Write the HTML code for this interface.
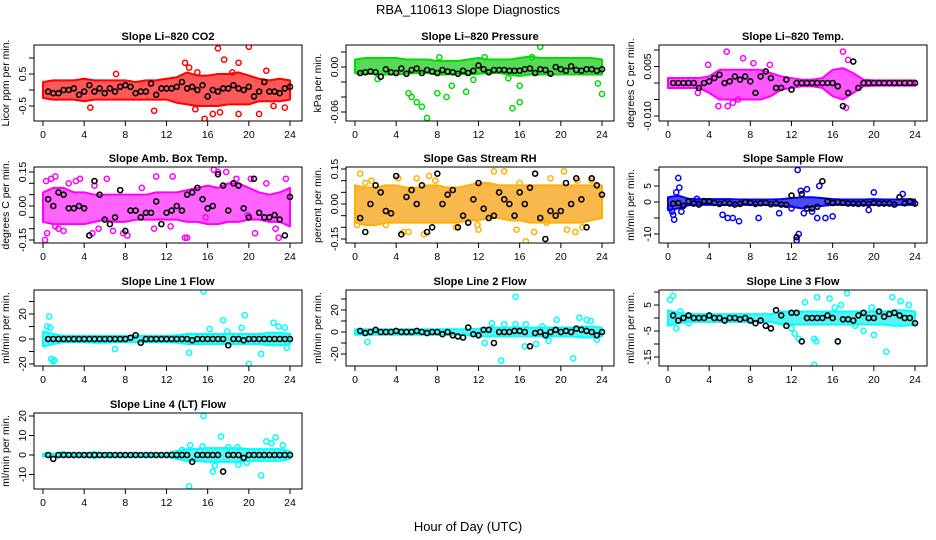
<!DOCTYPE html>
<html><head><meta charset="utf-8"><style>
html,body{margin:0;padding:0;background:#fff;}
svg{display:block;font-family:"Liberation Sans",sans-serif;}
</style></head><body>
<svg id="c" width="936" height="540" viewBox="0 0 936 540" xmlns="http://www.w3.org/2000/svg">
<text x="468" y="14" text-anchor="middle" font-size="13">RBA_110613  Slope Diagnostics</text>
<text x="468" y="531" text-anchor="middle" font-size="13">Hour of Day (UTC)</text>
</svg>
<script>
const blackHours=[0.5,1,1.5,2,2.5,3,3.5,4,4.5,5,5.5,6,6.5,7,7.5,8,8.5,9,9.5,10,10.5,11,11.5,12,12.5,13,13.5,14,14.5,15,15.5,16,16.5,17,17.5,18,18.5,19,19.5,20,20.5,21,21.5,22,22.5,23,23.5,24];
const bandHours=[0,1,2,3,4,5,6,7,8,9,10,11,12,13,14,15,16,17,18,19,20,21,22,23,24];
const xTicks=[0,4,8,12,16,20,24];

const co2Hi=[0.25,0.3,0.3,0.3,0.35,0.3,0.3,0.3,0.3,0.25,0.3,0.3,0.35,0.4,0.55,0.45,0.45,0.5,0.5,0.55,0.45,0.35,0.3,0.35,0.3];
const co2Lo=[-0.25,-0.3,-0.3,-0.3,-0.35,-0.3,-0.3,-0.3,-0.3,-0.3,-0.3,-0.3,-0.3,-0.4,-0.45,-0.5,-0.5,-0.5,-0.45,-0.45,-0.45,-0.35,-0.35,-0.35,-0.3];
const co2OutX=[17,20,17.6,19,13.8,21.7,15.7,16.5,17.2,19,21,10.8,23.5,14.8,4.6,7.1,15,14.2,18.4,22.4];
const co2OutY=[1.3,1.35,0.95,0.85,0.85,0.6,-0.9,-0.75,-0.7,-0.75,-0.75,-0.65,-0.55,-0.6,-0.55,0.5,0.55,0.7,0.55,-0.5];
const co2Mean=[-0.05,-0.1,-0.1,0.0,0.0,0.05,-0.15,-0.05,0.15,-0.05,0.05,-0.1,0.05,-0.05,0.1,0.15,0.1,-0.1,-0.05,-0.05,0.2,-0.15,0.05,0.05,0.05,0.1,0.25,0.05,0.1,0.0,0.15,-0.2,0.0,-0.05,0.05,0.05,0.15,0.05,0.0,0.1,-0.2,-0.05,0.25,-0.05,-0.05,-0.1,0.05,0.1];
const presHi=[0.01,0.012,0.012,0.012,0.012,0.01,0.01,0.01,0.008,0.008,0.008,0.01,0.012,0.01,0.01,0.01,0.012,0.014,0.012,0.012,0.012,0.012,0.012,0.012,0.01];
const presLo=[-0.008,-0.009,-0.009,-0.01,-0.01,-0.009,-0.008,-0.008,-0.01,-0.01,-0.009,-0.01,-0.009,-0.008,-0.008,-0.01,-0.012,-0.01,-0.01,-0.01,-0.01,-0.01,-0.01,-0.01,-0.01];
const presOutX=[5.2,5.5,6,6.5,7,8,8.9,9.4,10.8,11.5,15.3,16,16,23.6,24,18,8.2,12.6,17.2,2.2,14.9];
const presOutY=[-0.035,-0.04,-0.047,-0.053,-0.068,-0.035,-0.04,-0.025,-0.033,-0.017,-0.055,-0.025,-0.047,-0.022,-0.036,0.027,0.013,0.013,0.013,-0.016,-0.015];
const presMean=[-0.008,-0.007,-0.006,-0.007,-0.013,-0.003,-0.007,-0.008,-0.002,-0.009,-0.004,-0.002,-0.008,-0.004,-0.006,-0.008,-0.004,-0.006,-0.007,-0.009,-0.005,-0.008,-0.005,0.002,-0.003,-0.007,-0.004,-0.004,-0.004,-0.005,-0.005,-0.005,-0.003,-0.002,-0.008,-0.003,-0.004,-0.009,0.0,-0.003,-0.005,0.001,-0.004,-0.005,-0.003,-0.003,-0.005,-0.003];
const ltHi=[0.0015,0.0015,0.0015,0.0015,0.002,0.004,0.004,0.004,0.004,0.004,0.003,0.002,0.0015,0.001,0.001,0.0015,0.004,0.0045,0.003,0.001,0.0008,0.0008,0.0008,0.0008,0.0008];
const ltLo=[-0.0015,-0.0015,-0.0015,-0.0015,-0.003,-0.005,-0.005,-0.005,-0.005,-0.005,-0.004,-0.002,-0.0015,-0.001,-0.001,-0.0015,-0.004,-0.005,-0.003,-0.001,-0.0008,-0.0008,-0.0008,-0.0008,-0.0008];
const ltOutX=[5.7,7.8,17,7.3,17.5,4.9,5.8,6.3,17.3,3.9,8.3,9.9,6.8,2.9];
const ltOutY=[0.0095,-0.0125,0.0095,0.0075,0.007,-0.007,-0.007,-0.006,-0.0075,0.0055,0.006,0.0055,-0.005,-0.003];
const ltMean=[0,0,0,0,0,-0.0015,0,0.0005,0.0015,0.0025,0,0.0005,0.002,0.001,0.002,0.0005,-0.003,0.002,0.0035,0.0015,-0.0015,-0.0015,0.001,-0.002,0,0,0,0,0,0,0,0,-0.001,-0.007,-0.003,0.0065,-0.0015,0,0,0,0,0,0,0,0,0,0,0];
const abHi=[0.06,0.08,0.08,0.06,0.06,0.05,0.05,0.05,0.05,0.05,0.05,0.06,0.06,0.06,0.07,0.08,0.09,0.08,0.1,0.1,0.08,0.06,0.05,0.06,0.08];
const abLo=[-0.07,-0.08,-0.08,-0.08,-0.08,-0.07,-0.06,-0.07,-0.07,-0.06,-0.06,-0.06,-0.06,-0.06,-0.07,-0.07,-0.08,-0.08,-0.07,-0.07,-0.06,-0.06,-0.07,-0.07,-0.09];
const abOutX=[0.2,0.3,0.8,1.2,1.5,2.5,3.2,4.8,6.2,6.8,8.2,9.6,11,12.6,13.8,16.6,17.0,17.8,18.8,19.9,20.2,20.6,21.7,22.6,22.9,23.6,0.4,1.2,2.0,5.0,5.4,7.8,14.0,15.8,3.6,10.8,12.4];
const abOutY=[-0.15,0.11,0.12,-0.09,-0.1,0.1,0.11,-0.12,0.12,-0.11,-0.13,0.08,0.13,0.13,-0.14,0.16,0.15,0.15,0.12,-0.04,0.12,-0.12,0.1,-0.1,-0.14,0.12,-0.12,0.13,-0.11,0.09,-0.1,-0.12,-0.14,-0.05,0.12,-0.1,-0.09];
const abMean=[0.03,0.0,0.06,0.05,-0.01,-0.01,0.0,-0.01,-0.13,0.11,0.05,-0.06,-0.08,-0.05,0.07,-0.11,-0.02,-0.02,-0.05,-0.03,-0.03,0.02,-0.08,-0.03,-0.02,0.0,-0.02,0.05,0.06,0.08,0.03,-0.01,0.0,0.14,0.09,-0.02,0.10,0.09,-0.01,-0.05,0.12,-0.03,-0.05,-0.05,-0.04,-0.06,-0.13,0.04];
const rhHi=[0.08,0.07,0.07,0.08,0.08,0.07,0.07,0.08,0.08,0.07,0.07,0.08,0.09,0.09,0.08,0.08,0.08,0.08,0.08,0.08,0.08,0.08,0.08,0.08,0.08];
const rhLo=[-0.08,-0.09,-0.09,-0.08,-0.08,-0.08,-0.08,-0.08,-0.08,-0.08,-0.08,-0.07,-0.07,-0.06,-0.06,-0.07,-0.07,-0.08,-0.08,-0.08,-0.08,-0.08,-0.08,-0.07,-0.06];
const rhOutX=[0.5,1.0,1.6,3.0,4.2,5.2,6.0,6.7,7.2,7.8,9.8,12.0,13.5,14.5,16.0,16.6,17.4,19.0,20.3,20.6,21.6,22.1,23.0,0.2,4.7,11.9,15.7,18.6,21.4];
const rhOutY=[0.13,0.09,0.1,-0.09,0.11,-0.12,0.11,-0.13,0.12,0.1,-0.1,-0.11,0.14,0.14,0.09,-0.16,-0.12,0.11,0.14,-0.11,0.1,-0.1,0.1,-0.09,-0.12,-0.09,-0.11,-0.08,-0.12];
const rhMean=[-0.06,-0.12,0.0,0.08,0.05,-0.03,-0.04,0.12,-0.13,0.03,0.06,0.0,0.08,-0.12,-0.1,0.13,0.0,0.04,0.06,-0.1,-0.05,-0.08,0.02,0.09,-0.02,-0.06,-0.05,0.05,0.02,0.0,-0.05,0.05,0.0,0.07,0.13,-0.06,-0.15,-0.03,-0.05,-0.03,0.09,0.0,0.11,0.02,-0.1,0.11,0.08,0.04];
const sfHi=[1.5,2,1,0.9,0.9,0.9,0.9,0.8,0.8,0.8,0.8,0.9,1.2,1.5,1.5,1.2,0.9,0.8,0.8,0.8,0.9,0.8,0.8,0.9,0.8];
const sfLo=[-2.5,-2,-1,-0.9,-0.9,-0.9,-0.9,-0.9,-0.9,-0.9,-0.9,-1.2,-1.5,-2,-1.5,-1.2,-0.9,-0.9,-0.9,-0.9,-0.9,-0.9,-0.9,-0.9,-0.9];
const sfOutX=[0.2,0.4,0.6,0.8,1.0,1.3,0.5,5.3,5.8,6.3,6.9,8.8,10.8,12.0,12.5,12.7,12.6,13.2,13.5,14.0,14.5,14.7,15.3,16.0,19.5,20.0,22.8,12.9,2.8,1.1];
const sfOutY=[-2,-3,-5.5,3,7.5,-3,-4,-4,-5,-5,-6,-5,-3.5,-2,-12,-10,10,-3.5,4,-3,-5,5,-5,-4.5,-2.5,3,2.5,3.5,1,4.5];
const sfMean=[-0.5,-0.3,-1.2,0.2,-0.5,-0.8,0.3,0.2,-0.3,-0.6,-0.3,-0.5,-0.8,-0.6,0.0,-0.3,-0.6,-0.4,-0.3,-0.7,-0.5,-0.8,-0.9,2.0,-11,2.5,-2,-2,-1.5,6.5,0.2,-0.3,0.0,-0.3,-0.5,-0.5,-0.6,-0.5,-0.6,-0.3,-0.5,-0.5,-0.5,-0.8,1.5,-0.4,0.2,-0.5];
const l1Hi=[6,4,2.5,2.5,2.5,2.5,2.5,2.5,2.5,2.5,2.5,2.5,2.5,3,4,4,4,4,4,4,4,4,5,5,4];
const l1Lo=[-6,-4,-2.5,-2.5,-2.5,-3,-3,-2.5,-2.5,-2.5,-2.5,-2.5,-2.5,-3,-4,-4,-4,-4,-4,-4,-4,-4,-5,-5,-4];
const l1OutX=[0.6,0.4,0.7,0.8,1.0,1.1,15.6,17.5,19.6,22.4,22.9,23.5,20.0,21.2,14.2,16.2,17.9,19.3,23.7,7.0];
const l1OutY=[18,10,9,-16,-18,-17,38,15,19,13,10,9,-20,-12,-11,8,6,9,-7,-8];
const l1Mean=[0,0,0,0,0,0,0,0,0,0,0,0,0,0,0,0,1,3,-3,0,0,0,0,0,0,0,0,0,-1,0,0,0,0,0,0,-5,0,0,-1,0,0,0,0,0,0,0,0,0];
const l2Hi=[2.5,2.5,2.5,2.5,2.5,2.5,2.5,2.5,2.5,2.5,2.5,2.5,3,4,4,4,4,4,4,4,4,4,5,5,4];
const l2Lo=[-2.5,-2.5,-2.5,-2.5,-2.5,-2.5,-2.5,-2.5,-2.5,-2.5,-2.5,-3,-4,-4,-4,-4,-4,-4,-4,-4,-4,-4,-5,-5,-4];
const l2OutX=[1.2,14.2,15.6,21.2,16.5,17.6,19.6,21.8,22.5,22.9,13.3,14.5,15.6,18.8,12.6,23.5,16.6,18.2];
const l2OutY=[-9,-26,32,-24,-13,-11,11,13,11,10,8,7,7,-8,-10,-7,7,5];
const l2Mean=[1,-1,0,2,0,0,0,1,0,0,0,1,0,-1,0,0,-2,0,-3,-4,-5,4,-2,-3,2,2,-10,0,0,0,1,1,0,-13,-1,0,-3,0,2,0,1,0,3,2,1,0,-3,0];
const l3Hi=[3,2,1.5,1.5,1.5,1.5,1.5,1.5,1.5,1.5,1.5,2.5,2.5,2.5,2.5,2.5,2.5,2.5,2.5,2.5,2.5,2.5,3,3,2.5];
const l3Lo=[-3,-2,-1.5,-1.5,-1.5,-1.5,-1.5,-1.5,-1.5,-1.5,-1.5,-2.5,-2.5,-2.5,-2.5,-2.5,-2.5,-2.5,-2.5,-2.5,-2.5,-2.5,-3,-3,-2.5];
const l3OutX=[0.2,0.5,0.8,1.2,2.0,12.3,12.7,13.3,14.2,14.4,14.5,15.7,16.2,16.5,16.8,17.4,18.2,19.0,19.8,20.0,21.2,21.8,22.6,23.4,14.2,12.0];
const l3OutY=[7,8.5,-4,2.5,-2,-6,-8,6,-8,-9,8,7.5,4,-9,5,9.5,-3,-5,4,-6.5,-13,8,6.5,5,-18,-4];
const l3Mean=[1,-1,0,1,0,0,0,1,0,0,-1,0,0,-0.5,0,-1,-2,-1,-3,-4,3,1,-3,2,2,-9,0,0,0,0,1,0,-9,-0.5,-0.5,-1,1,2,0,0,2.5,0.5,1.5,2,1,0,0,-2];
const l4Hi=[0.7,0.7,1.5,0.7,0.7,1.5,0.7,0.7,0.7,0.7,0.7,0.7,0.7,2,3,3,3.5,3.5,3.5,3.5,3,3,3,3,2];
const l4Lo=[-0.7,-0.7,-0.7,-0.7,-0.7,-1.5,-0.7,-0.7,-0.7,-0.7,-0.7,-0.7,-0.7,-2,-3,-3,-3.5,-3.5,-3.5,-3.5,-3,-3,-3,-3,-2];
const l4OutX=[14.2,15.6,17.3,21.2,22.6,23.3,21.7,16.5,19.0,19.8,18.0,14.3,22.2,15.5,16.7,18.9,13.5];
const l4OutY=[-16,20,9.5,-10.5,9,5,7,-8.5,-5,-4,4,5,6,4.5,-5.5,4,2.5];
const l4Mean=[0,-2,0,0,0,0,0,0,0,0,0,0,0,0,0,0,0,0,0,0,0,0,0,0,0,0,0,0,-3.5,0,0,0,0,0,-8.5,0,0,0,-1.5,0,0,0,0,0,0,0,0,0];

const NS='http://www.w3.org/2000/svg';
const svg=document.getElementById('c');
function mk(tag,attrs,parent){const e=document.createElementNS(NS,tag);for(const k in attrs)e.setAttribute(k,attrs[k]);(parent||svg).appendChild(e);return e;}

const colLeft=[34,346,659], rowTop=[45,167,290,413], W=268, H=76;
const panels=[
 {name:'co2',title:'Slope Li\u2013820 CO2',ylab:'Licor ppm per min.',col:0,row:0,v0:0,o0:45,v1:0.5,o1:29,ticks:[-0.5,0,0.5,1],labels:['-0.5','0.5'],labVals:[-0.5,0.5],color:'#ff0000',band:'#ff2020',hi:co2Hi,lo:co2Lo,ox:co2OutX,oy:co2OutY,mean:co2Mean},
 {name:'pressure',title:'Slope Li\u2013820 Pressure',ylab:'kPa per min.',col:1,row:0,v0:0,o0:22,v1:-0.06,o1:67,ticks:[-0.06,-0.04,-0.02,0,0.02],labels:['-0.06','0.00'],labVals:[-0.06,0],color:'#00dd00',band:'#22cc22',hi:presHi,lo:presLo,ox:presOutX,oy:presOutY,mean:presMean},
 {name:'li820-temp',title:'Slope Li\u2013820 Temp.',ylab:'degrees C per min.',col:2,row:0,v0:0,o0:38,v1:-0.01,o1:71,ticks:[-0.01,-0.005,0,0.005,0.01],labels:['-0.010','0.005'],labVals:[-0.01,0.005],color:'#ff00ff',band:'#ff20ff',hi:ltHi,lo:ltLo,ox:ltOutX,oy:ltOutY,mean:ltMean},
 {name:'amb-box-temp',title:'Slope Amb. Box Temp.',ylab:'degrees C per min.',col:0,row:1,v0:0,o0:39,v1:0.15,o1:5,ticks:[-0.15,-0.1,-0.05,0,0.05,0.1,0.15],labels:['-0.15','0.00','0.15'],labVals:[-0.15,0,0.15],color:'#ff00ff',band:'#ff30ff',hi:abHi,lo:abLo,ox:abOutX,oy:abOutY,mean:abMean},
 {name:'gas-stream-rh',title:'Slope Gas Stream RH',ylab:'percent per min.',col:1,row:1,v0:0,o0:37,v1:0.15,o1:2,ticks:[-0.15,-0.1,-0.05,0,0.05,0.1,0.15],labels:['-0.15','0.00','0.15'],labVals:[-0.15,0,0.15],color:'#ffb000',band:'#f5a010',hi:rhHi,lo:rhLo,ox:rhOutX,oy:rhOutY,mean:rhMean},
 {name:'sample-flow',title:'Slope Sample Flow',ylab:'ml/min per min.',col:2,row:1,v0:0,o0:35,v1:-10,o1:67,ticks:[-10,-5,0,5,10],labels:['-10','0','5'],labVals:[-10,0,5],color:'#0000ff',band:'#1010f0',hi:sfHi,lo:sfLo,ox:sfOutX,oy:sfOutY,mean:sfMean},
 {name:'line1-flow',title:'Slope Line 1 Flow',ylab:'ml/min per min.',col:0,row:2,v0:0,o0:49,v1:20,o1:24,ticks:[-20,-10,0,10,20,30],labels:['-20','0','20'],labVals:[-20,0,20],color:'#00ffff',band:'#20f0f0',hi:l1Hi,lo:l1Lo,ox:l1OutX,oy:l1OutY,mean:l1Mean},
 {name:'line2-flow',title:'Slope Line 2 Flow',ylab:'ml/min per min.',col:1,row:2,v0:0,o0:42,v1:20,o1:20,ticks:[-20,-10,0,10,20,30],labels:['-20','0','20'],labVals:[-20,0,20],color:'#00ffff',band:'#20f0f0',hi:l2Hi,lo:l2Lo,ox:l2OutX,oy:l2OutY,mean:l2Mean},
 {name:'line3-flow',title:'Slope Line 3 Flow',ylab:'ml/min per min.',col:2,row:2,v0:0,o0:28,v1:-15,o1:67,ticks:[-15,-10,-5,0,5,10],labels:['-15','-5','5'],labVals:[-15,-5,5],color:'#00ffff',band:'#20f0f0',hi:l3Hi,lo:l3Lo,ox:l3OutX,oy:l3OutY,mean:l3Mean},
 {name:'line4-flow',title:'Slope Line 4 (LT) Flow',ylab:'ml/min per min.',col:0,row:3,v0:0,o0:42,v1:20,o1:3,ticks:[-10,0,10,20],labels:['-10','0','10','20'],labVals:[-10,0,10,20],color:'#00ffff',band:'#20f0f0',hi:l4Hi,lo:l4Lo,ox:l4OutX,oy:l4OutY,mean:l4Mean}
];

panels.forEach((p,pi)=>{
  const L=colLeft[p.col], T=rowTop[p.row];
  const xs=h=>L+9+h*(247/24);
  const ys=v=>T+p.o0+(v-p.v0)*(p.o1-p.o0)/(p.v1-p.v0);
  const g=mk('g',{});
  
  
  const cp=mk('clipPath',{id:'cp'+pi},g);
  mk('rect',{x:L,y:T,width:W,height:H},cp);
  const t=mk('text',{x:L+W/2,y:T-5,'text-anchor':'middle','font-size':'11','font-weight':'bold'},g);
  t.textContent=p.title;
  
  
  const yl=mk('text',{x:0,y:0,'text-anchor':'middle','font-size':'10.5',transform:`translate(${L-25},${T+H/2}) rotate(-90)`},g);
  yl.textContent=p.ylab;
  
  
  const data=mk('g',{'clip-path':`url(#cp${pi})`},g);
  let pts=[];
  bandHours.forEach((h,i)=>pts.push(xs(h)+','+ys(p.hi[i])));
  for(let i=bandHours.length-1;i>=0;i--)pts.push(xs(bandHours[i])+','+ys(p.lo[i]));
  const band=mk('polygon',{points:pts.join(' '),fill:p.band,stroke:p.color,'stroke-width':'2','stroke-linejoin':'round','fill-opacity':'0.75'},data);
  
  
  p.ox.forEach((h,i)=>{
    const c=mk('circle',{cx:xs(h),cy:ys(p.oy[i]),r:2.6,fill:'none',stroke:p.color,'stroke-width':'1.5'},data);
    
    
  });
  blackHours.forEach((h,i)=>{
    const c=mk('circle',{cx:xs(h),cy:ys(p.mean[i]),r:2.5,fill:'none',stroke:'#000','stroke-width':'1.6'},data);
    
    
  });
  const bx=mk('rect',{x:L,y:T,width:W,height:H,fill:'none',stroke:'#000','stroke-width':'1'},g);
  
  
  mk('line',{x1:xs(0),x2:xs(24),y1:T+H,y2:T+H,stroke:'#000'},g);
  xTicks.forEach(v=>{
    mk('line',{x1:xs(v),x2:xs(v),y1:T+H,y2:T+H+5,stroke:'#000'},g);
    const tl=mk('text',{x:xs(v),y:T+H+17,'text-anchor':'middle','font-size':'10.5'},g);
    tl.textContent=v;
    
    
  });
  p.ticks.forEach(v=>{
    const y=ys(v);
    if(y<T-1||y>T+H+1)return;
    mk('line',{x1:L-5,x2:L,y1:y,y2:y,stroke:'#000'},g);
  });
  p.labVals.forEach((v,i)=>{
    const y=ys(v);
    const tl=mk('text',{x:0,y:0,'text-anchor':'middle','font-size':'10.5',transform:`translate(${L-8},${y}) rotate(-90)`},g);
    tl.textContent=p.labels[i];
    
    
  });
});
</script>
</body></html>
